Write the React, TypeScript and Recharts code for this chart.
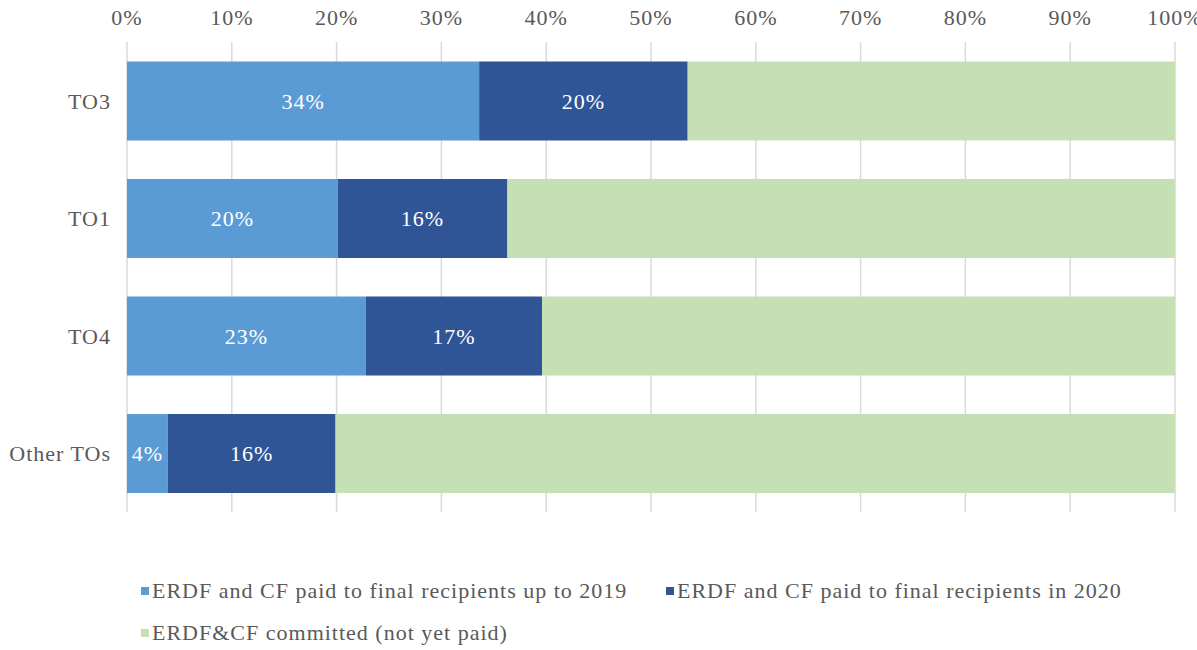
import React from 'react'
import { BarChart, Bar, XAxis, YAxis, CartesianGrid, LabelList } from 'recharts'

const categories = ['TO3', 'TO1', 'TO4', 'Other TOs']
const paidUpTo2019 = [33.6, 20.1, 22.8, 3.9]
const paidIn2020 = [19.9, 16.2, 16.8, 16.0]
const committed = [46.5, 63.7, 60.4, 80.1]
const xTicks = [0, 10, 20, 30, 40, 50, 60, 70, 80, 90, 100]

const seriesNames = [
  'ERDF and CF paid to final recipients up to 2019',
  'ERDF and CF paid to final recipients in 2020',
  'ERDF&CF committed (not yet paid)',
]
const colors = ['#5b9bd5', '#2f5597', '#c5e0b4']

const data = categories.map((name, i) => ({
  name,
  upTo2019: paidUpTo2019[i],
  in2020: paidIn2020[i],
  committed: committed[i],
}))

const font = '"Liberation Serif", "Times New Roman", Times, serif'
const textGray = '#595959'
const fmt = (v: any) => `${Math.round(Number(v))}%`

function LegendItem({ label, color, left, top }: { label: string; color: string; left: number; top: number }) {
  return (
    <div style={{ position: 'absolute', left, top, display: 'flex', alignItems: 'center', whiteSpace: 'nowrap' }}>
      <span style={{ width: 8, height: 8, background: color, display: 'inline-block', marginRight: 3 }} />
      <span style={{ fontSize: 22, color: textGray, fontFamily: font }}>{label}</span>
    </div>
  )
}

export default function App() {
  return (
    <div
      style={{
        position: 'absolute',
        left: 0,
        top: 0,
        width: 1197,
        height: 650,
        background: '#fff',
        fontFamily: font,
        letterSpacing: '1px',
      }}
    >
      <BarChart
        width={1197}
        height={650}
        data={data}
        layout="vertical"
        margin={{ top: 0, right: 22, bottom: 138, left: 0 }}
        barCategoryGap="16.5%"
      >
        <CartesianGrid horizontal={false} stroke="#d9d9d9" strokeWidth={1.5} />
        <XAxis
          type="number"
          orientation="top"
          domain={[0, 100]}
          ticks={xTicks}
          tickFormatter={(v) => `${v}%`}
          axisLine={false}
          tickLine={false}
          tickSize={0}
          tickMargin={17}
          height={42}
          interval={0}
          tick={{ fill: textGray, fontSize: 22, fontFamily: font }}
        />
        <YAxis
          type="category"
          dataKey="name"
          width={127}
          axisLine={false}
          tickLine={false}
          tickSize={0}
          tickMargin={16}
          tick={{ fill: textGray, fontSize: 22, fontFamily: font }}
        />
        <Bar dataKey="upTo2019" stackId="a" fill={colors[0]} isAnimationActive={false}>
          <LabelList dataKey="upTo2019" position="center" fill="#fff" fontSize={22} fontFamily={font} formatter={fmt} />
        </Bar>
        <Bar dataKey="in2020" stackId="a" fill={colors[1]} isAnimationActive={false}>
          <LabelList dataKey="in2020" position="center" fill="#fff" fontSize={22} fontFamily={font} formatter={fmt} />
        </Bar>
        <Bar dataKey="committed" stackId="a" fill={colors[2]} isAnimationActive={false} />
      </BarChart>
      <LegendItem label={seriesNames[0]} color={colors[0]} left={141} top={578} />
      <LegendItem label={seriesNames[1]} color={colors[1]} left={666} top={578} />
      <LegendItem label={seriesNames[2]} color={colors[2]} left={141} top={620} />
    </div>
  )
}
